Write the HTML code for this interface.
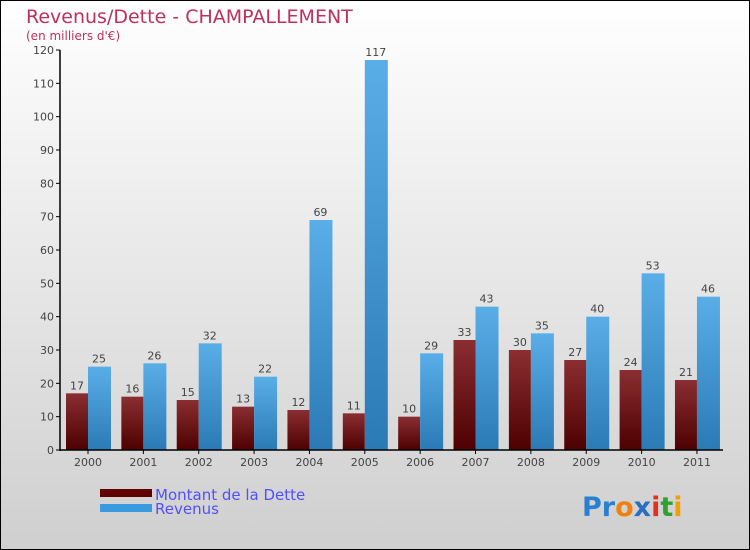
<!DOCTYPE html>
<html><head><meta charset="utf-8"><style>
body{margin:0}
#c{width:750px;height:550px;position:relative;background:linear-gradient(#ffffff,#cfcfcf);box-sizing:border-box;border:1px solid #000;font-family:"DejaVu Sans","Liberation Sans",sans-serif;overflow:hidden}
</style></head><body>
<div id="c">
<svg id="s" width="750" height="550" style="position:absolute;left:-1px;top:-1px">
<defs>
<linearGradient id="gr" x1="0" y1="0" x2="0" y2="1"><stop offset="0" stop-color="#8a2e32"/><stop offset="1" stop-color="#4e0000"/></linearGradient>
<linearGradient id="gb" x1="0" y1="0" x2="0" y2="1"><stop offset="0" stop-color="#5aaee8"/><stop offset="1" stop-color="#2a7ab5"/></linearGradient>
</defs>
<text x="26" y="23" font-size="19" fill="#c0305a">Revenus/Dette - CHAMPALLEMENT</text>
<text x="26" y="40" font-size="12" fill="#c0305a">(en milliers d'€)</text>
<g id="g"></g>
<rect x="100" y="489" width="52" height="8" fill="#600000"/>
<rect x="100" y="504" width="52" height="8" fill="#3a9ae0"/>
<text x="155" y="500" font-size="15" fill="#5050ff">Montant de la Dette</text>
<text x="155" y="514" font-size="15" fill="#5050ff">Revenus</text>
<text x="582" y="516" font-size="27" font-weight="bold"><tspan fill="#2a80d0">Pr</tspan><tspan fill="#f08010">o</tspan><tspan fill="#2a70c0">x</tspan><tspan fill="#e03020">i</tspan><tspan fill="#30a030">t</tspan><tspan fill="#f0a000">i</tspan></text>
</svg></div>
<script>
const years=["2000","2001","2002","2003","2004","2005","2006","2007","2008","2009","2010","2011"];
const dette=[17,16,15,13,12,11,10,33,30,27,24,21];
const revenus=[25,26,32,22,69,117,29,43,35,40,53,46];
const ticks=[0,10,20,30,40,50,60,70,80,90,100,110,120];
const NS="http://www.w3.org/2000/svg",g=document.getElementById("g");
const y=v=>450-v*400/120, xc=i=>88+i*55.36, bw=22;
function mk(t,a,txt){const e=document.createElementNS(NS,t);for(const k in a)e.setAttribute(k,a[k]);if(txt!=null)e.textContent=txt;g.appendChild(e);return e;}
ticks.forEach(t=>{mk("line",{x1:56,x2:60,y1:y(t),y2:y(t),stroke:"#000"});
const e=mk("text",{x:54,y:y(t)+4,"font-size":11,fill:"#444","text-anchor":"end"},t);

});
years.forEach((yr,i)=>{
const c=xc(i);
const r=mk("rect",{x:c-bw,y:y(dette[i]),width:bw,height:450-y(dette[i]),fill:"url(#gr)"});


const b=mk("rect",{x:c,y:y(revenus[i]),width:bw+1,height:450-y(revenus[i]),fill:"url(#gb)"});


const l1=mk("text",{x:c-bw/2,y:y(dette[i])-4,"font-size":11,fill:"#444","text-anchor":"middle"},dette[i]);


const l2=mk("text",{x:c+bw/2,y:y(revenus[i])-4,"font-size":11,fill:"#444","text-anchor":"middle"},revenus[i]);


mk("line",{x1:c,x2:c,y1:450,y2:454,stroke:"#000"});
const xl=mk("text",{x:c,y:466,"font-size":11,fill:"#444","text-anchor":"middle"},yr);


});
const ya=mk("line",{x1:60,x2:60,y1:50,y2:451,stroke:"#000","stroke-width":1.5});


const xa=mk("line",{x1:60,x2:723,y1:450,y2:450,stroke:"#000","stroke-width":1.5});


</script></body></html>
